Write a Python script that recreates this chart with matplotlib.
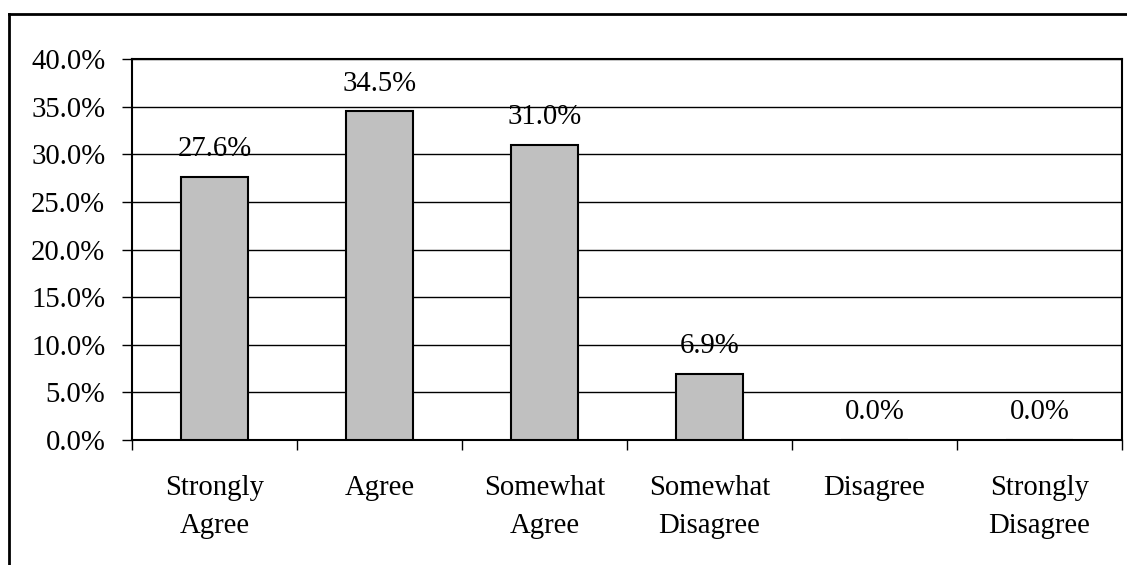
import matplotlib.pyplot as plt
import numpy as np
from matplotlib.lines import Line2D
from matplotlib.ticker import FuncFormatter, MultipleLocator

categories = ['Strongly\nAgree', 'Agree', 'Somewhat\nAgree',
              'Somewhat\nDisagree', 'Disagree', 'Strongly\nDisagree']
percents = [27.6, 34.5, 31.0, 6.9, 0.0, 0.0]

plt.rcParams['font.family'] = ['Liberation Serif', 'DejaVu Serif']
plt.rcParams['font.size'] = 20.7

W, H = 1127, 565
fig = plt.figure(figsize=(W / 100, H / 100), dpi=100)
ax = fig.add_axes([132 / W, 1 - 440 / H, (1122 - 132) / W, (440 - 59) / H])

x = np.arange(len(categories))
ax.bar(x, percents, width=0.41, color='#c0c0c0', edgecolor='black',
       linewidth=1.5, zorder=3)

for xi, v in zip(x, percents):
    ax.annotate(f'{v:.1f}%', (xi, v), xytext=(0, 20), textcoords='offset points',
                ha='center', va='center', zorder=4)

ax.set_xlim(-0.5, 5.5)
ax.set_ylim(0, 40)
ax.yaxis.set_major_locator(MultipleLocator(5))
ax.yaxis.set_major_formatter(FuncFormatter(lambda v, p: f'{v:.1f}%'))
ax.grid(axis='y', color='black', linewidth=1, zorder=0)

ax.set_xticks(x)
ax.set_xticklabels(categories, linespacing=1.6)
ax.set_xticks(np.arange(-0.5, 6, 1), minor=True)
ax.tick_params(axis='x', which='major', length=0, pad=25)
ax.tick_params(axis='x', which='minor', length=7.2, width=1, direction='out')
ax.tick_params(axis='y', length=7.2, width=1, direction='out', pad=12)

for s in ax.spines.values():
    s.set_linewidth(1.5)
    s.set_color('black')

# border of the whole chart area
fig.add_artist(Line2D([9 / W, 1.01], [1 - 14 / H, 1 - 14 / H],
                      transform=fig.transFigure, color='black', linewidth=2))
fig.add_artist(Line2D([9 / W, 9 / W], [1 - 14 / H, -0.01],
                      transform=fig.transFigure, color='black', linewidth=2))

fig.savefig('out.png', dpi=100)
